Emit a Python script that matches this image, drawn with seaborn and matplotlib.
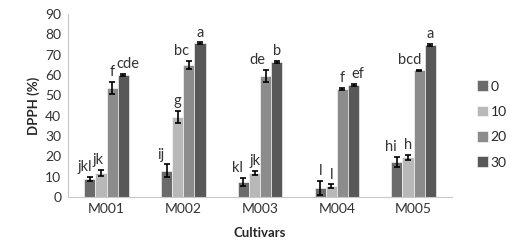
import matplotlib
matplotlib.use("Agg")
from matplotlib import pyplot as plt
import pandas as pd
import seaborn as sns

# data
cultivars = ['M001', 'M002', 'M003', 'M004', 'M005']
levels = ['0', '10', '20', '30']
dpph_0 = [9.0, 13.0, 7.2, 4.3, 17.3]
dpph_10 = [12.0, 39.5, 12.0, 5.2, 19.5]
dpph_20 = [53.5, 65.0, 59.5, 53.2, 62.2]
dpph_30 = [60.0, 75.5, 66.6, 55.0, 74.8]
err_0 = [1.0, 3.0, 2.0, 3.5, 2.5]
err_10 = [1.5, 3.0, 1.0, 1.0, 1.2]
err_20 = [3.0, 2.0, 3.0, 0.4, 0.4]
err_30 = [0.5, 0.5, 0.5, 0.5, 0.5]
lab_0 = ['jkl', 'ij', 'kl', 'l', 'hi']
lab_10 = ['jk', 'g', 'jk', 'l', 'h']
lab_20 = ['f', 'bc', 'de', 'f', 'bcd']
lab_30 = ['cde', 'a', 'b', 'ef', 'a']

values = [dpph_0, dpph_10, dpph_20, dpph_30]
errors = [err_0, err_10, err_20, err_30]
letters = [lab_0, lab_10, lab_20, lab_30]
colors = ['#6b6b6b', '#b8b8b8', '#8c8c8c', '#585858']

# horizontal nudges (points) for letters placed off-centre in the original
nudge = [[-4, -4, -4, 0, -4],
         [-2, 0, 0, 0, 0],
         [0, -5, -6, 0, -7],
         [3, 0, 0, 3, 0]]

rows = []
for lev, vals in zip(levels, values):
    for c, v in zip(cultivars, vals):
        rows.append({'Cultivar': c, 'Level': lev, 'DPPH': v})
df = pd.DataFrame(rows)

sns.set_style('white')
plt.rcParams['font.family'] = ['Lato', 'DejaVu Sans']

fig, ax = plt.subplots(figsize=(5.13, 2.49), dpi=100)
sns.barplot(data=df, x='Cultivar', y='DPPH', hue='Level', order=cultivars,
            hue_order=levels, palette=colors, width=0.58, gap=0,
            errorbar=None, saturation=1, edgecolor='white', linewidth=0.4,
            ax=ax)

for cont, errs, labs, nd in zip(ax.containers, errors, letters, nudge):
    for bar, e, lab, dx in zip(cont, errs, labs, nd):
        x = bar.get_x() + bar.get_width() / 2
        h = bar.get_height()
        ax.errorbar(x, h, yerr=e, fmt='none', ecolor='black',
                    elinewidth=1.2, capsize=2.5, capthick=1.2)
        ax.annotate(lab, (x, h + e), xytext=(dx, 2), textcoords='offset points',
                    ha='center', va='bottom', fontsize=10.5, color='#333333')

ax.set_ylim(0, 90)
ax.set_yticks(range(0, 91, 10))
ax.set_xlim(-0.5, 4.5)
ax.set_xlabel('Cultivars', fontsize=9.5, fontweight='bold', labelpad=9)
ax.set_ylabel('DPPH (%)', fontsize=9.5, fontweight='bold', labelpad=4)
ax.tick_params(axis='y', labelsize=10, colors='#333333', length=0, pad=5)
ax.tick_params(axis='x', labelsize=10, colors='#333333', length=0, pad=4)
for s in ['top', 'right']:
    ax.spines[s].set_visible(False)
for s in ['left', 'bottom']:
    ax.spines[s].set_color('#c8c8c8')
    ax.spines[s].set_linewidth(0.8)

handles, labels = ax.get_legend_handles_labels()
ax.legend(handles, labels, loc='center left', bbox_to_anchor=(0.905, 0.5),
          bbox_transform=fig.transFigure, frameon=False, fontsize=10,
          handlelength=0.8, handleheight=0.8, handletextpad=0.2,
          labelspacing=0.95)

plt.subplots_adjust(left=0.133, right=0.881, top=0.944, bottom=0.209)
plt.savefig('out.png', dpi=100)
